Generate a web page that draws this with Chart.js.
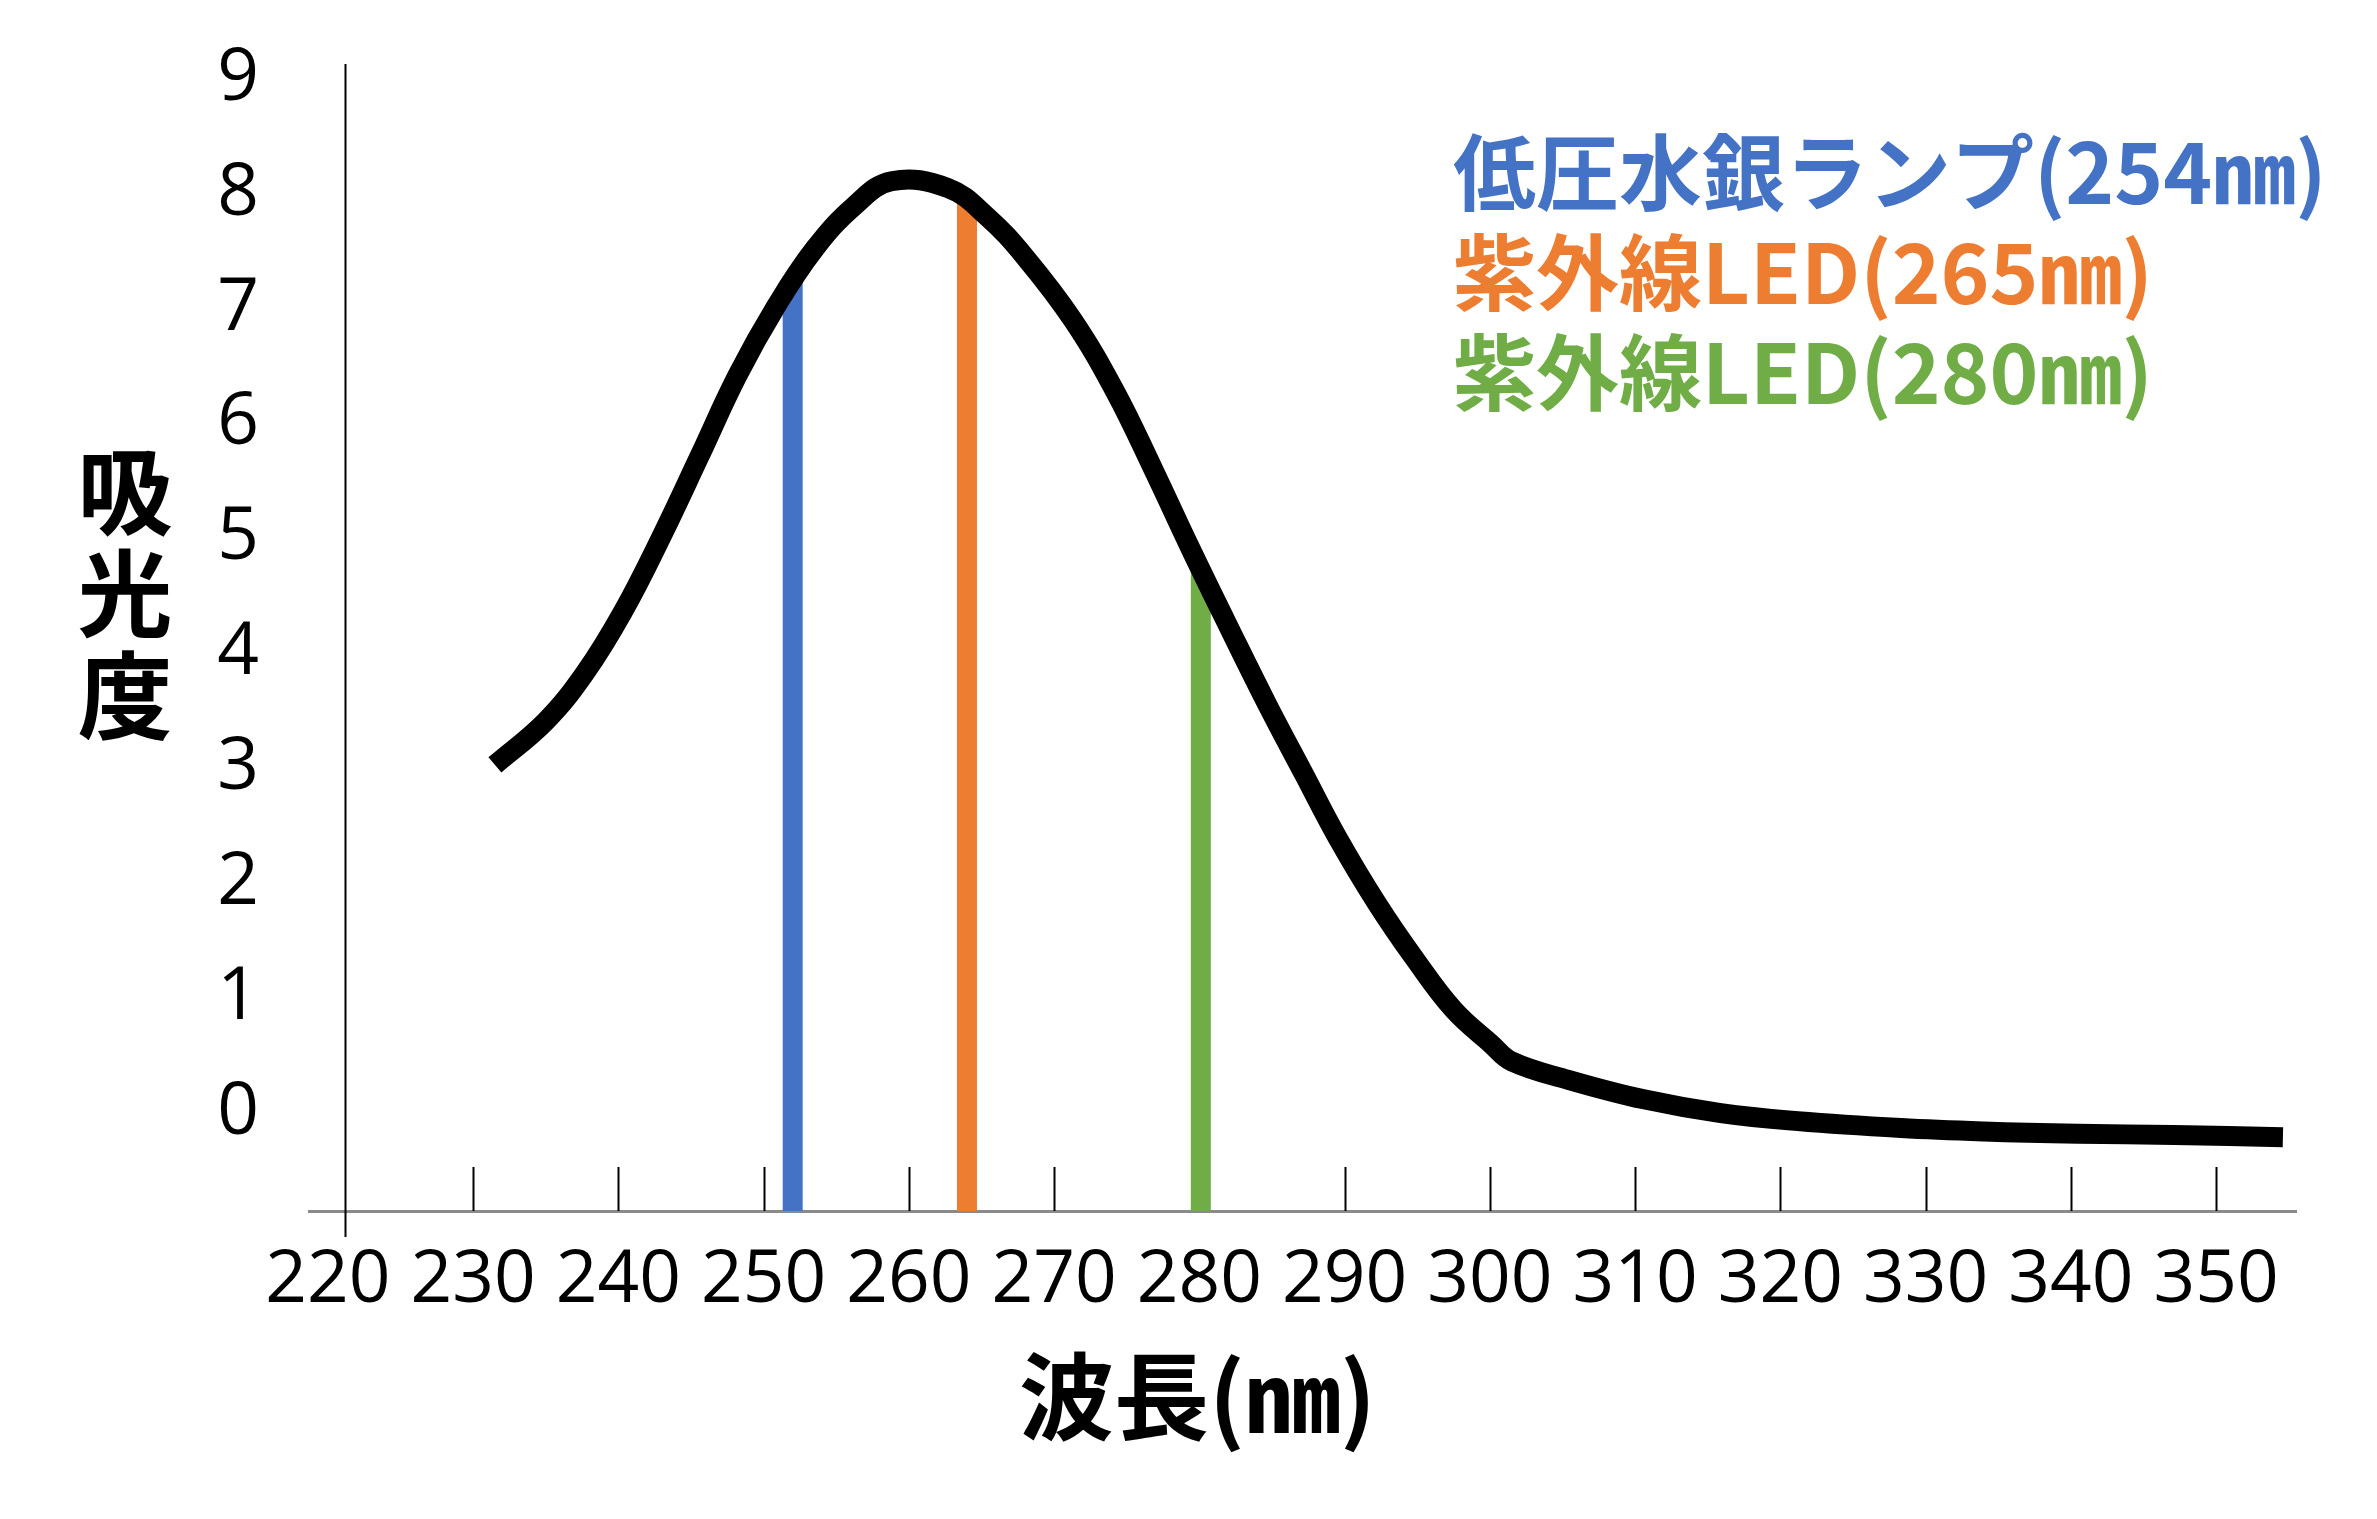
<!DOCTYPE html>
<html>
<head>
<meta charset="utf-8">
<script src="https://cdn.jsdelivr.net/npm/chart.js@4.4.1/dist/chart.umd.min.js"></script>
<style>
  html, body { margin: 0; padding: 0; background: #fff; }
  #wrap { width: 2377px; height: 1519px; }
</style>
</head>
<body>
<div id="wrap"><canvas id="absChart"></canvas></div>
<script>
// absorbance curve
const waveNm = [231.5, 235.0, 237.7, 240.3, 242.9, 245.6, 248.2, 250.9, 253.5, 256.2,
                258.8, 262.7, 265.4, 268.0, 271.3, 274.2, 276.8, 279.4, 282.1,
                284.7, 287.2, 289.5, 292.2, 294.9, 297.5, 300.1, 301.5, 305.4, 310.6,
                315.9, 321.2, 328.3, 334.0, 340.5, 347.1, 354.6];
const absorbance = [3.03, 3.41, 3.83, 4.36, 5.00, 5.72, 6.42, 7.03, 7.52, 7.89,
                    8.11, 8.05, 7.80, 7.45, 6.90, 6.28, 5.61, 4.91, 4.21,
                    3.55, 2.95, 2.40, 1.83, 1.33, 0.90, 0.60, 0.45, 0.29, 0.12,
                    0.00, -0.07, -0.13, -0.16, -0.18, -0.19, -0.21];

// light sources (vertical bars)
const lampLabels = ['低圧水銀ランプ(254㎚)', '紫外線LED(265㎚)', '紫外線LED(280㎚)'];
const lampNm = [252.0, 264.0, 280.1];
const lampTop = [7.24, 7.93, 4.73];
const lampColors = ['#4472C4', '#ED7D31', '#70AD47'];

const xTicks = [220, 230, 240, 250, 260, 270, 280, 290, 300, 310, 320, 330, 340, 350];
const yTicks = [0, 1, 2, 3, 4, 5, 6, 7, 8, 9];

const X_MIN = 218.7, X_MAX = 355.5;
const Y_MIN = -0.852, Y_MAX = 9.13;
const Y_AXIS_AT = 221.2;

const tickFont = "'Open Sans', sans-serif";
const jpFont = "'Noto Sans CJK JP', sans-serif";

const curve = waveNm.map((x, i) => ({ x: x, y: absorbance[i] }));

const lampSets = lampNm.map((nm, i) => ({
    label: lampLabels[i],
    data: [{ x: nm, y: Y_MIN }, { x: nm, y: lampTop[i] }],
    borderColor: lampColors[i],
    borderWidth: 20,
    borderCapStyle: 'butt',
    pointRadius: 0,
    showLine: true,
    clip: false
}));

const overlay = {
    id: 'overlay',
    beforeDatasetsDraw(chart) {
        const ctx = chart.ctx;
        const xs = chart.scales.x, ys = chart.scales.y;
        ctx.save();
        ctx.strokeStyle = '#000';
        ctx.lineWidth = 2;
        // vertical axis line
        const ax = Math.round(xs.getPixelForValue(Y_AXIS_AT)) + 0.5;
        ctx.beginPath();
        ctx.moveTo(ax, ys.top);
        ctx.lineTo(ax, ys.bottom + 26);
        ctx.stroke();
        // small tick marks standing on the x axis
        xTicks.slice(1).forEach(v => {
            const px = Math.round(xs.getPixelForValue(v)) + 0.5;
            ctx.beginPath();
            ctx.moveTo(px, ys.bottom);
            ctx.lineTo(px, ys.bottom - 44);
            ctx.stroke();
        });
        ctx.restore();
    },
    afterDraw(chart) {
        const ctx = chart.ctx;
        ctx.save();
        ctx.fillStyle = '#000';
        ctx.textBaseline = 'middle';
        ctx.textAlign = 'center';
        ctx.font = 'bold 95px ' + jpFont;
        ['吸', '光', '度'].forEach((ch, i) => ctx.fillText(ch, 125, 492 + i * 102));

        ctx.textAlign = 'left';
        ctx.fillText('波長(㎚)', 1019, 1397);

        ctx.font = 'bold 83px ' + jpFont;
        chart.data.datasets.slice(1).forEach((ds, i) => {
            ctx.fillStyle = ds.borderColor;
            ctx.fillText(ds.label, 1453, 172 + i * 100);
        });
        ctx.restore();
    }
};

new Chart(document.getElementById('absChart'), {
    type: 'scatter',
    data: {
        datasets: [{
            label: '吸光度',
            data: curve,
            borderColor: '#000',
            borderWidth: 20,
            borderCapStyle: 'butt',
            borderJoinStyle: 'round',
            pointRadius: 0,
            showLine: true,
            tension: 0.4,
            clip: false
        }].concat(lampSets)
    },
    options: {
        responsive: true,
        maintainAspectRatio: false,
        devicePixelRatio: 1,
        animation: false,
        layout: { padding: { left: 0, right: 81, top: 64, bottom: 0 } },
        plugins: {
            legend: { display: false },
            tooltip: { enabled: false }
        },
        scales: {
            x: {
                type: 'linear',
                min: X_MIN,
                max: X_MAX,
                afterBuildTicks: s => { s.ticks = xTicks.map(v => ({ value: v })); },
                afterFit: s => {
                    s.height = 308;
                    s.paddingLeft = 0;
                    s.paddingRight = 0;
                },
                grid: { display: false, drawTicks: false },
                border: { display: true, color: '#8a8a8a', width: 3 },
                ticks: {
                    padding: 26,
                    color: '#000',
                    maxRotation: 0,
                    autoSkip: false,
                    font: { family: tickFont, size: 73 }
                }
            },
            y: {
                type: 'linear',
                min: Y_MIN,
                max: Y_MAX,
                afterBuildTicks: s => { s.ticks = yTicks.map(v => ({ value: v })); },
                afterFit: s => {
                    s.width = 309;
                    s.paddingTop = 0;
                    s.paddingBottom = 0;
                },
                grid: { display: false, drawTicks: false },
                border: { display: false },
                ticks: {
                    padding: 50,
                    color: '#000',
                    autoSkip: false,
                    font: { family: tickFont, size: 73 }
                }
            }
        }
    },
    plugins: [overlay]
});
</script>
</body>
</html>
